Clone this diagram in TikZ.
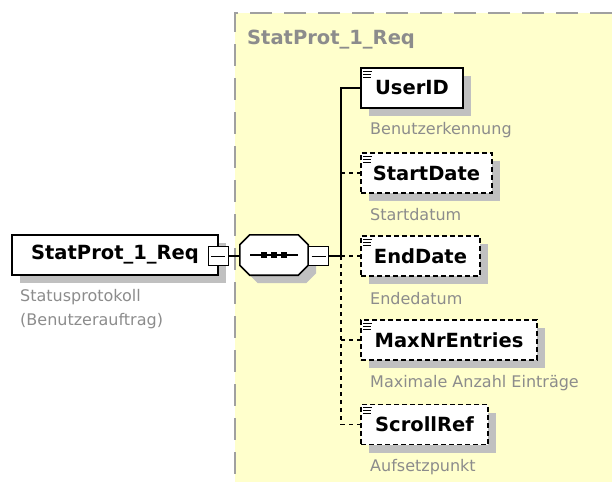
\documentclass[tikz,border=0pt]{standalone}
\usepackage{fontspec}
\setmainfont{DejaVu Sans}
\usetikzlibrary{shadows,calc}
\definecolor{yfill}{HTML}{FFFFCC}
\definecolor{shgray}{HTML}{C0C0C0}
\definecolor{txtgray}{HTML}{8C8C8C}
\definecolor{bordergray}{HTML}{A0A0A0}
\begin{document}
\begin{tikzpicture}[x=1pt,y=-1pt,
  elem/.style={draw=black, line width=1.6pt, fill=white, minimum height=40pt, inner sep=0pt,
    font=\fontsize{19.5}{21}\selectfont\bfseries,
    general shadow={fill=shgray, shadow xshift=8pt, shadow yshift=-8pt}},
  opt/.style={elem, dash pattern=on 5pt off 3pt},
  desc/.style={anchor=west, text=txtgray, font=\fontsize{16}{18}\selectfont, inner sep=0pt},
  minusbox/.style={draw=black, line width=1pt, fill=white, minimum width=20pt, minimum height=19pt, inner sep=0pt,
    path picture={\draw[line width=1pt] ([xshift=3pt]path picture bounding box.west) -- ([xshift=-3pt]path picture bounding box.east);}},
  conn/.style={line width=1.5pt},
  dconn/.style={conn, dash pattern=on 4pt off 4pt},
  icon/.style={line width=1pt},
]
\useasboundingbox (0,0) rectangle (612,482);
% group background
\fill[yfill] (235,13) rectangle (612,482);
\draw[bordergray, line width=2pt, dash pattern=on 22pt off 12pt] (612,13) -- (235,13) -- (235,482);
\node[anchor=west, text=txtgray, font=\fontsize{19.5}{21}\selectfont\bfseries, inner sep=0pt] (title) at (247,40) {StatProt\_1\_Req};

% root element
\node[elem, minimum width=206pt] (root) at (115,255) {StatProt\_1\_Req};
\node[minusbox] (rootminus) at (218,256) {};
\node[anchor=north west, text=txtgray, font=\fontsize{16}{24}\selectfont, inner sep=0pt, align=left] (rootdesc) at (20,289) {Statusprotokoll\\(Benutzerauftrag)};

% sequence compositor
\node[minimum width=68pt, minimum height=40pt, inner sep=0pt] (seq) at (274,255) {};
\draw[line width=1.6pt, fill=white, general shadow={fill=shgray, shadow xshift=8pt, shadow yshift=-8pt}]
  ($(seq.north west)+(10,0)$) -- ($(seq.north east)+(-10,0)$) -- ($(seq.north east)+(0,10)$)
  -- ($(seq.south east)+(0,-10)$) -- ($(seq.south east)+(-10,0)$) -- ($(seq.south west)+(10,0)$)
  -- ($(seq.south west)+(0,-10)$) -- ($(seq.north west)+(0,10)$) -- cycle;
\draw[line width=1.4pt] ($(seq.center)+(-24,0)$) -- ($(seq.center)+(24,0)$);
\foreach \dx in {-10,0,10} \fill ($(seq.center)+(\dx-3,-3)$) rectangle ($(seq.center)+(\dx+3,3)$);
\node[minusbox] (seqminus) at (318.5,256) {};
\coordinate (junction) at (341,256);

% children
\node[elem, minimum width=102pt] (userid) at (412,88) {UserID};
\node[opt, minimum width=131pt] (startdate) at (426.5,173) {StartDate};
\node[opt, minimum width=119pt] (enddate) at (420.5,256) {EndDate};
\node[opt, minimum width=176pt] (maxnr) at (449,340) {MaxNrEntries};
\node[opt, minimum width=127pt] (scrollref) at (424.5,424.5) {ScrollRef};

\foreach \n in {userid,startdate,enddate,maxnr,scrollref}{
  \draw[icon] ($(\n.north west)+(3,4)$) -- ++(9,0);
  \draw[icon] ($(\n.north west)+(3,7)$) -- ++(8,0);
  \draw[icon] ($(\n.north west)+(3,10)$) -- ++(8,0);
}

\node[desc] (d1) at (370,130) {Benutzerkennung};
\node[desc] (d2) at (370,215) {Startdatum};
\node[desc] (d3) at (370,299) {Endedatum};
\node[desc] (d4) at (370,383) {Maximale Anzahl Einträge};
\node[desc] (d5) at (370,467) {Aufsetzpunkt};

% connectors
\draw[conn] (rootminus.east) -- (seq.west |- rootminus.east);
\draw[conn] (seqminus.east) -- (junction);
\draw[conn] (junction) |- (userid.west);
\draw[dconn] (junction) -- (junction |- scrollref.west);
\draw[dconn] (junction |- startdate.west) -- (startdate.west);
\draw[dconn] (junction |- enddate.west) -- (enddate.west);
\draw[dconn] (junction |- maxnr.west) -- (maxnr.west);
\draw[dconn] (junction |- scrollref.west) -- (scrollref.west);
\end{tikzpicture}
\end{document}
